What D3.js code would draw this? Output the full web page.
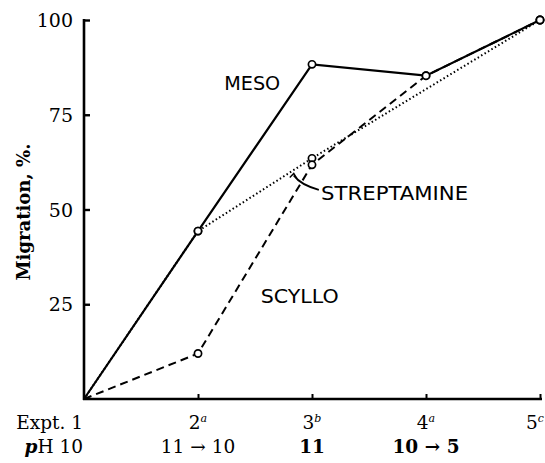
<!DOCTYPE html>
<html>
<head>
<meta charset="utf-8">
<script src="https://cdn.jsdelivr.net/npm/d3@7"></script>
<style>
  body { margin: 0; background: #fff; }
  text { fill: #000; }
</style>
</head>
<body>
<svg width="545" height="463"></svg>
<script>
var expts = [1, 2, 3, 4, 5]
var exptLabels = ['Expt. 1', '2', '3', '4', '5']
var exptSup = ['', 'a', 'b', 'a', 'c']
var phLabels = ['pH 10', '11 \u2192 10', '11', '10 \u2192 5', '']
var meso = [0, 44.3, 88.3, 85.3, 100]
var streptamine = [0, 44.3, 63.5, null, 100]
var scyllo = [0, 12, 61.8, 85.3, 100]
var yTicks = [25, 50, 75, 100]

var svg = d3.select('svg')
var serif = 'DejaVu Serif, serif'
var sans = 'DejaVu Sans, sans-serif'

var x = d3.scaleLinear().domain([1, 5]).range([84, 540])
var y = d3.scaleLinear().domain([0, 100]).range([399, 20])

// axes
svg.append('g')
  .attr('transform', 'translate(84,0)')
  .call(d3.axisRight(y).tickValues(yTicks).tickSize(6).tickFormat(''))
  .call(function(g) {
    g.select('.domain').attr('d', 'M0,' + (y(100) - 1) + 'V' + (y(0) + 1)).attr('stroke-width', 2.6)
    g.selectAll('.tick line').attr('stroke-width', 2.4)
  })

svg.append('g')
  .attr('transform', 'translate(0,399)')
  .call(d3.axisTop(x).tickValues([2, 3, 4, 5]).tickSize(5).tickFormat(''))
  .call(function(g) {
    g.select('.domain').attr('d', 'M' + (x(1) - 1) + ',0H' + (x(5) + 2)).attr('stroke-width', 2.6)
    g.selectAll('.tick line').attr('stroke-width', 2)
  })

// y tick labels
svg.selectAll('.ylab')
  .data(yTicks)
  .enter()
  .append('text')
  .attr('x', 73)
  .attr('y', function(d) { return y(d) + 7 })
  .attr('text-anchor', 'end')
  .style('font-family', serif)
  .style('font-size', '19px')
  .text(function(d) { return d })

svg.append('text')
  .attr('transform', 'translate(30,212) rotate(-90)')
  .attr('text-anchor', 'middle')
  .attr('textLength', 137)
  .attr('lengthAdjust', 'spacingAndGlyphs')
  .style('font-family', serif)
  .style('font-size', '18px')
  .style('font-weight', 'bold')
  .text('Migration, %.')

// x labels
function anchorX(d, i) { return i == 0 ? 83 : (i == 4 ? 544 : x(d)) }
function anchor(d, i) { return i == 0 || i == 4 ? 'end' : 'middle' }

var xl = svg.selectAll('.xlab')
  .data(expts)
  .enter()
  .append('text')
  .attr('x', anchorX)
  .attr('y', 429)
  .attr('text-anchor', anchor)
  .style('font-family', serif)
  .style('font-size', '18.5px')
xl.append('tspan').text(function(d, i) { return exptLabels[i] })
xl.append('tspan')
  .attr('dy', -7)
  .style('font-size', '11px')
  .style('font-style', 'italic')
  .text(function(d, i) { return exptSup[i] })

svg.selectAll('.phlab')
  .data(expts)
  .enter()
  .append('text')
  .attr('x', anchorX)
  .attr('y', 453)
  .attr('text-anchor', anchor)
  .style('font-family', serif)
  .style('font-size', '18.5px')
  .style('font-weight', function(d, i) { return i >= 2 ? 'bold' : 'normal' })
  .each(function(d, i) {
    var t = d3.select(this)
    if (i == 0) {
      t.append('tspan').style('font-style', 'italic').style('font-weight', 'bold').text('p')
      t.append('tspan').text(phLabels[i].slice(1))
    } else {
      t.text(phLabels[i])
    }
  })

// series
var series = [
  {name: 'meso', vals: meso, dash: null, width: 2.2},
  {name: 'streptamine', vals: streptamine, dash: '1.5,2.5', width: 2},
  {name: 'scyllo', vals: scyllo, dash: '8,5', width: 2}
]

var line = d3.line()
  .x(function(d) { return x(d.e) })
  .y(function(d) { return y(d.v) })

series.forEach(function(s) {
  var pts = expts.map(function(e, i) { return {e: e, v: s.vals[i]} })
    .filter(function(d) { return d.v != null })
  svg.append('path')
    .datum(pts)
    .attr('d', line)
    .attr('fill', 'none')
    .attr('stroke', '#000')
    .attr('stroke-width', s.width)
    .attr('stroke-dasharray', s.dash)
  s.pts = pts
})

series.forEach(function(s) {
  svg.selectAll(null)
    .data(s.pts.filter(function(d) { return d.e > 1 }))
    .enter()
    .append('circle')
    .attr('cx', function(d) { return x(d.e) })
    .attr('cy', function(d) { return y(d.v) })
    .attr('r', 3.6)
    .attr('fill', '#fff')
    .attr('stroke', '#000')
    .attr('stroke-width', 1.7)
})

// labels
function lab(txt, e, v, w) {
  svg.append('text')
    .attr('x', x(e))
    .attr('y', y(v))
    .attr('textLength', w)
    .attr('lengthAdjust', 'spacingAndGlyphs')
    .style('font-family', sans)
    .style('font-size', '19.5px')
    .text(txt)
}
lab('MESO', 2.23, 81.5, 56)
lab('SCYLLO', 2.55, 25.2, 78)
lab('STREPTAMINE', 3.08, 52.5, 147)

// leader from STREPTAMINE label to dotted line
var lead = d3.path()
lead.moveTo(x(3.06), y(55.2))
lead.quadraticCurveTo(x(2.9), y(56.5), x(2.84), y(59))
svg.append('path')
  .attr('d', lead.toString())
  .attr('fill', 'none')
  .attr('stroke', '#000')
  .attr('stroke-width', 1.8)
svg.append('path')
  .attr('d', 'M' + (x(2.84) - 4) + ',' + (y(59) + 2) + 'L' + x(2.84) + ',' + (y(59) - 2) + 'L' + (x(2.84) + 3) + ',' + (y(59) + 3))
  .attr('fill', 'none')
  .attr('stroke', '#000')
  .attr('stroke-width', 1.4)
</script>
</body>
</html>
